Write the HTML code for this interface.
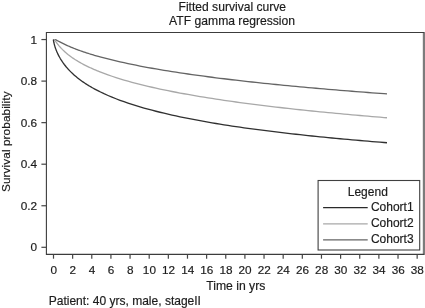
<!DOCTYPE html>
<html><head><meta charset="utf-8"><title>Fitted survival curve</title>
<style>
html,body{margin:0;padding:0;background:#fff;}
svg{display:block;font-family:"Liberation Sans",sans-serif;}
text{fill:#1c1c1c;stroke:#1c1c1c;stroke-width:0.18px;}
</style></head>
<body>
<svg width="425" height="308" viewBox="0 0 425 308">
<rect width="425" height="308" fill="#fff"/>
<g font-size="12.1">
<text x="232.3" y="10.8" text-anchor="middle">Fitted survival curve</text>
<text x="232.1" y="25.3" text-anchor="middle" font-size="12.15">ATF gamma regression</text>
<text x="206.2" y="290" font-size="12.2">Time in yrs</text>
<text x="48.7" y="305" font-size="12.03">Patient: 40 yrs, male, stageII</text>
<text transform="translate(10,141.7) rotate(-90)" text-anchor="middle" font-size="11.8" letter-spacing="0.08">Survival probability</text>
</g>
<g fill="none" stroke-width="1.3" stroke-linejoin="round">
<path d="M53.30,39.55 L53.55,39.55 L53.80,39.55 L54.05,39.55 L54.30,39.55 L54.55,39.55 L54.80,39.55 L55.05,39.55 L55.30,39.63 L55.55,39.74 L55.80,39.85 L56.05,39.96 L56.30,40.08 L56.55,40.20 L56.80,40.33 L57.05,40.46 L57.30,40.59 L57.55,40.72 L57.80,40.85 L58.05,40.98 L58.30,41.11 L58.55,41.24 L58.80,41.37 L59.05,41.50 L59.30,41.63 L60.30,42.16 L61.30,42.67 L62.30,43.18 L63.30,43.68 L64.30,44.16 L65.30,44.64 L66.30,45.10 L67.30,45.56 L68.30,46.01 L69.30,46.44 L70.30,46.87 L71.30,47.29 L72.30,47.71 L73.30,48.11 L74.30,48.51 L75.30,48.90 L76.30,49.28 L77.30,49.66 L78.30,50.03 L79.30,50.40 L80.30,50.75 L81.30,51.11 L82.30,51.46 L83.30,51.80 L84.30,52.14 L85.30,52.47 L86.30,52.80 L87.30,53.12 L88.30,53.44 L89.30,53.75 L90.30,54.06 L91.30,54.37 L92.30,54.67 L93.30,54.97 L94.30,55.27 L95.30,55.56 L96.30,55.85 L97.30,56.13 L98.30,56.41 L99.30,56.69 L100.00,56.88 L104.00,57.96 L108.00,58.99 L112.00,59.98 L116.00,60.93 L120.00,61.85 L124.00,62.74 L128.00,63.60 L132.00,64.43 L136.00,65.23 L140.00,66.02 L144.00,66.78 L148.00,67.52 L152.00,68.24 L156.00,68.94 L160.00,69.62 L164.00,70.29 L168.00,70.94 L172.00,71.58 L176.00,72.20 L180.00,72.81 L184.00,73.41 L188.00,73.99 L192.00,74.56 L196.00,75.13 L200.00,75.68 L204.00,76.21 L208.00,76.74 L212.00,77.26 L216.00,77.77 L220.00,78.28 L224.00,78.77 L228.00,79.25 L232.00,79.73 L236.00,80.20 L240.00,80.66 L244.00,81.11 L248.00,81.56 L252.00,82.00 L256.00,82.43 L260.00,82.86 L264.00,83.28 L268.00,83.69 L272.00,84.10 L276.00,84.50 L280.00,84.90 L284.00,85.29 L288.00,85.68 L292.00,86.06 L296.00,86.44 L300.00,86.81 L304.00,87.18 L308.00,87.54 L312.00,87.90 L316.00,88.25 L320.00,88.60 L324.00,88.94 L328.00,89.28 L332.00,89.62 L336.00,89.95 L340.00,90.28 L344.00,90.61 L348.00,90.93 L352.00,91.25 L356.00,91.56 L360.00,91.87 L364.00,92.18 L368.00,92.49 L372.00,92.79 L376.00,93.09 L380.00,93.38 L384.00,93.67 L387.00,93.89" stroke="#646464"/>
<path d="M53.30,39.55 L53.55,39.55 L53.80,39.55 L54.05,39.55 L54.30,39.69 L54.55,39.98 L54.80,40.29 L55.05,40.61 L55.30,40.95 L55.55,41.29 L55.80,41.63 L56.05,41.98 L56.30,42.32 L56.55,42.66 L56.80,43.00 L57.05,43.33 L57.30,43.66 L57.55,43.99 L57.80,44.31 L58.05,44.62 L58.30,44.94 L58.55,45.25 L58.80,45.55 L59.05,45.85 L59.30,46.15 L60.30,47.29 L61.30,48.38 L62.30,49.41 L63.30,50.39 L64.30,51.33 L65.30,52.23 L66.30,53.10 L67.30,53.93 L68.30,54.74 L69.30,55.51 L70.30,56.26 L71.30,56.98 L72.30,57.69 L73.30,58.37 L74.30,59.03 L75.30,59.68 L76.30,60.31 L77.30,60.92 L78.30,61.52 L79.30,62.10 L80.30,62.67 L81.30,63.23 L82.30,63.77 L83.30,64.31 L84.30,64.83 L85.30,65.34 L86.30,65.84 L87.30,66.33 L88.30,66.82 L89.30,67.29 L90.30,67.76 L91.30,68.21 L92.30,68.66 L93.30,69.10 L94.30,69.54 L95.30,69.97 L96.30,70.39 L97.30,70.80 L98.30,71.21 L99.30,71.61 L100.00,71.89 L104.00,73.42 L108.00,74.87 L112.00,76.25 L116.00,77.56 L120.00,78.82 L124.00,80.02 L128.00,81.17 L132.00,82.28 L136.00,83.34 L140.00,84.37 L144.00,85.36 L148.00,86.32 L152.00,87.25 L156.00,88.14 L160.00,89.02 L164.00,89.86 L168.00,90.69 L172.00,91.49 L176.00,92.26 L180.00,93.02 L184.00,93.76 L188.00,94.48 L192.00,95.19 L196.00,95.88 L200.00,96.55 L204.00,97.21 L208.00,97.85 L212.00,98.48 L216.00,99.09 L220.00,99.70 L224.00,100.29 L228.00,100.87 L232.00,101.44 L236.00,101.99 L240.00,102.54 L244.00,103.08 L248.00,103.61 L252.00,104.13 L256.00,104.64 L260.00,105.14 L264.00,105.63 L268.00,106.11 L272.00,106.59 L276.00,107.06 L280.00,107.52 L284.00,107.98 L288.00,108.43 L292.00,108.87 L296.00,109.30 L300.00,109.73 L304.00,110.15 L308.00,110.57 L312.00,110.98 L316.00,111.38 L320.00,111.78 L324.00,112.18 L328.00,112.57 L332.00,112.95 L336.00,113.33 L340.00,113.70 L344.00,114.07 L348.00,114.44 L352.00,114.80 L356.00,115.15 L360.00,115.50 L364.00,115.85 L368.00,116.19 L372.00,116.53 L376.00,116.87 L380.00,117.20 L384.00,117.53 L387.00,117.77" stroke="#a8a8a8"/>
<path d="M53.30,39.55 L53.55,41.00 L53.80,42.26 L54.05,43.37 L54.30,44.36 L54.55,45.28 L54.80,46.13 L55.05,46.94 L55.30,47.70 L55.55,48.42 L55.80,49.12 L56.05,49.78 L56.30,50.43 L56.55,51.04 L56.80,51.64 L57.05,52.22 L57.30,52.79 L57.55,53.33 L57.80,53.86 L58.05,54.38 L58.30,54.89 L58.55,55.38 L58.80,55.87 L59.05,56.34 L59.30,56.80 L60.30,58.55 L61.30,60.18 L62.30,61.71 L63.30,63.14 L64.30,64.49 L65.30,65.77 L66.30,67.00 L67.30,68.16 L68.30,69.28 L69.30,70.35 L70.30,71.38 L71.30,72.37 L72.30,73.33 L73.30,74.25 L74.30,75.14 L75.30,76.01 L76.30,76.85 L77.30,77.66 L78.30,78.46 L79.30,79.23 L80.30,79.98 L81.30,80.71 L82.30,81.42 L83.30,82.11 L84.30,82.79 L85.30,83.46 L86.30,84.10 L87.30,84.74 L88.30,85.36 L89.30,85.96 L90.30,86.56 L91.30,87.14 L92.30,87.71 L93.30,88.27 L94.30,88.82 L95.30,89.36 L96.30,89.89 L97.30,90.41 L98.30,90.93 L99.30,91.43 L100.00,91.78 L104.00,93.68 L108.00,95.47 L112.00,97.16 L116.00,98.76 L120.00,100.28 L124.00,101.72 L128.00,103.09 L132.00,104.41 L136.00,105.67 L140.00,106.87 L144.00,108.03 L148.00,109.14 L152.00,110.22 L156.00,111.25 L160.00,112.25 L164.00,113.22 L168.00,114.16 L172.00,115.06 L176.00,115.94 L180.00,116.79 L184.00,117.62 L188.00,118.42 L192.00,119.21 L196.00,119.97 L200.00,120.71 L204.00,121.43 L208.00,122.13 L212.00,122.82 L216.00,123.49 L220.00,124.14 L224.00,124.78 L228.00,125.41 L232.00,126.02 L236.00,126.62 L240.00,127.20 L244.00,127.77 L248.00,128.33 L252.00,128.88 L256.00,129.42 L260.00,129.95 L264.00,130.46 L268.00,130.97 L272.00,131.47 L276.00,131.96 L280.00,132.44 L284.00,132.91 L288.00,133.37 L292.00,133.83 L296.00,134.27 L300.00,134.71 L304.00,135.14 L308.00,135.57 L312.00,135.99 L316.00,136.40 L320.00,136.80 L324.00,137.20 L328.00,137.59 L332.00,137.98 L336.00,138.36 L340.00,138.73 L344.00,139.10 L348.00,139.47 L352.00,139.82 L356.00,140.18 L360.00,140.52 L364.00,140.87 L368.00,141.21 L372.00,141.54 L376.00,141.87 L380.00,142.19 L384.00,142.51 L387.00,142.75" stroke="#303030"/>
</g>
<rect x="422" y="32" width="1" height="223" fill="#e6e6e6"/>
<rect x="423" y="32" width="2" height="223" fill="#7c7c7c"/>
<path d="M424,32.5 H46.4 V254.4 H424" fill="none" stroke="#3c3c3c" stroke-width="1.1"/>
<g stroke="#444" stroke-width="1.2"><line x1="53.50" y1="254.4" x2="53.50" y2="258.7"/><line x1="72.64" y1="254.4" x2="72.64" y2="258.7"/><line x1="91.78" y1="254.4" x2="91.78" y2="258.7"/><line x1="110.92" y1="254.4" x2="110.92" y2="258.7"/><line x1="130.06" y1="254.4" x2="130.06" y2="258.7"/><line x1="149.20" y1="254.4" x2="149.20" y2="258.7"/><line x1="168.34" y1="254.4" x2="168.34" y2="258.7"/><line x1="187.48" y1="254.4" x2="187.48" y2="258.7"/><line x1="206.62" y1="254.4" x2="206.62" y2="258.7"/><line x1="225.76" y1="254.4" x2="225.76" y2="258.7"/><line x1="244.90" y1="254.4" x2="244.90" y2="258.7"/><line x1="264.04" y1="254.4" x2="264.04" y2="258.7"/><line x1="283.18" y1="254.4" x2="283.18" y2="258.7"/><line x1="302.32" y1="254.4" x2="302.32" y2="258.7"/><line x1="321.46" y1="254.4" x2="321.46" y2="258.7"/><line x1="340.60" y1="254.4" x2="340.60" y2="258.7"/><line x1="359.74" y1="254.4" x2="359.74" y2="258.7"/><line x1="378.88" y1="254.4" x2="378.88" y2="258.7"/><line x1="398.02" y1="254.4" x2="398.02" y2="258.7"/><line x1="417.16" y1="254.4" x2="417.16" y2="258.7"/><line x1="41.4" y1="247.30" x2="46.4" y2="247.30"/><line x1="41.4" y1="205.75" x2="46.4" y2="205.75"/><line x1="41.4" y1="164.20" x2="46.4" y2="164.20"/><line x1="41.4" y1="122.65" x2="46.4" y2="122.65"/><line x1="41.4" y1="81.10" x2="46.4" y2="81.10"/><line x1="41.4" y1="39.55" x2="46.4" y2="39.55"/></g>
<g font-size="11.75"><text x="53.70" y="273.8" text-anchor="middle">0</text><text x="72.84" y="273.8" text-anchor="middle">2</text><text x="91.98" y="273.8" text-anchor="middle">4</text><text x="111.12" y="273.8" text-anchor="middle">6</text><text x="130.26" y="273.8" text-anchor="middle">8</text><text x="149.40" y="273.8" text-anchor="middle">10</text><text x="168.54" y="273.8" text-anchor="middle">12</text><text x="187.68" y="273.8" text-anchor="middle">14</text><text x="206.82" y="273.8" text-anchor="middle">16</text><text x="225.96" y="273.8" text-anchor="middle">18</text><text x="245.10" y="273.8" text-anchor="middle">20</text><text x="264.24" y="273.8" text-anchor="middle">22</text><text x="283.38" y="273.8" text-anchor="middle">24</text><text x="302.52" y="273.8" text-anchor="middle">26</text><text x="321.66" y="273.8" text-anchor="middle">28</text><text x="340.80" y="273.8" text-anchor="middle">30</text><text x="359.94" y="273.8" text-anchor="middle">32</text><text x="379.08" y="273.8" text-anchor="middle">34</text><text x="398.22" y="273.8" text-anchor="middle">36</text><text x="417.36" y="273.8" text-anchor="middle">38</text></g><g font-size="11.8"><text x="37.1" y="251.30" text-anchor="end">0</text><text x="37.1" y="209.75" text-anchor="end">0.2</text><text x="37.1" y="168.20" text-anchor="end">0.4</text><text x="37.1" y="126.65" text-anchor="end">0.6</text><text x="37.1" y="85.10" text-anchor="end">0.8</text><text x="37.1" y="43.55" text-anchor="end">1</text></g>
<rect x="318.1" y="180.5" width="101.6" height="69.5" fill="#fff" stroke="#404040" stroke-width="1.1"/>
<g font-size="12">
<text x="367.8" y="196.3" text-anchor="middle">Legend</text>
<text x="370.9" y="211.2">Cohort1</text>
<text x="370.9" y="227.4">Cohort2</text>
<text x="370.9" y="243.1">Cohort3</text>
</g>
<g stroke-width="1.2">
<line x1="323.1" y1="207.6" x2="367.7" y2="207.6" stroke="#2a2a2a"/>
<line x1="323.1" y1="223.8" x2="367.7" y2="223.8" stroke="#a8a8a8"/>
<line x1="323.1" y1="239.8" x2="367.7" y2="239.8" stroke="#646464"/>
</g>
</svg>
</body></html>
